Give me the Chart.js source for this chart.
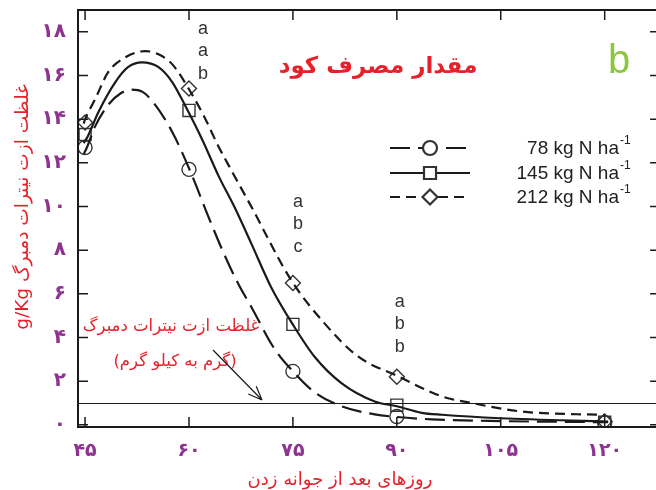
<!DOCTYPE html>
<html>
<head>
<meta charset="utf-8">
<script src="https://cdn.jsdelivr.net/npm/chart.js@4/dist/chart.umd.min.js"></script>
<style>
  html, body { margin: 0; padding: 0; background: #fff; overflow: hidden; }
  #wrap { width: 670px; height: 490px; }
</style>
</head>
<body>
<div id="wrap"><canvas id="chart" width="670" height="490"></canvas></div>
<script>
// measured points (days after emergence)
const sampleDays = [45, 60, 75, 90, 120];
const n78 = [12.7, 11.7, 2.45, 0.38, 0.1];
const n145 = [13.3, 14.4, 4.6, 0.9, 0.12];
const n212 = [13.85, 15.4, 6.5, 2.2, 0.15];

// fitted curves
const fit78Days = [44.8, 45.25, 46.45, 48.4, 50.2, 51.6, 53.3, 54.9, 57.6, 60, 63.1, 65.1, 67.2, 69, 72.3, 75, 78.1, 82, 86.8, 90, 95, 105, 120.5];
const fit78Vals = [12.4, 12.69, 13.67, 14.68, 15.2, 15.35, 15.25, 14.75, 13.4, 11.75, 9.3, 7.8, 6.4, 5.4, 3.5, 2.45, 1.5, 0.85, 0.48, 0.36, 0.25, 0.17, 0.12];
const fit145Days = [44.8, 45.4, 46.9, 49.35, 51.2, 53.2, 55.6, 57.6, 59.5, 61.9, 64.3, 66.6, 69, 71.8, 75, 78.1, 82, 86.8, 90, 93.6, 96.5, 105, 120.5];
const fit145Vals = [12.9, 13.22, 14.31, 15.69, 16.38, 16.6, 16.38, 15.69, 14.59, 13.07, 11.38, 9.95, 8.3, 6.34, 4.59, 3.13, 1.91, 1.07, 0.85, 0.55, 0.46, 0.3, 0.15];
const fit212Days = [44.8, 45, 46.45, 48.33, 50.8, 53.7, 55.6, 57.6, 60, 62.4, 64.1, 66.3, 68.9, 74.7, 79.5, 84.4, 90.2, 96.5, 100.8, 108, 120];
const fit212Vals = [13.8, 13.99, 14.91, 16.15, 16.83, 17.12, 16.97, 16.51, 15.37, 13.99, 12.85, 11.55, 10.05, 6.65, 4.67, 3.13, 2.22, 1.3, 1.0, 0.61, 0.45];

const seriesLabels = ['78 kg N ha', '145 kg N ha', '212 kg N ha'];
const xTickValues = [45, 60, 75, 90, 105, 120];
const xTickLabels = ['۴۵', '۶۰', '۷۵', '۹۰', '۱۰۵', '۱۲۰'];
const yTickValues = [0, 2, 4, 6, 8, 10, 12, 14, 16, 18];
const yTickLabels = ['۰', '۲', '۴', '۶', '۸', '۱۰', '۱۲', '۱۴', '۱۶', '۱۸'];
const thresholdValue = 1;
const sigDays = [60, 75, 90];
const sigLetters = [['a', 'a', 'b'], ['a', 'b', 'c'], ['a', 'b', 'b']];

const chartTitle = 'مقدار مصرف کود';
const xTitle = 'روزهای بعد از جوانه زدن';
const yTitle = 'غلظت ازت نیترات دمبرگ g/Kg';
const noteLine1 = 'غلظت ازت نیترات دمبرگ';
const noteLine2 = '(گرم به کیلو گرم)';

const RED = '#e8202a';
const PURPLE = '#8e3390';
const INK = '#1a1a1a';

const styles = [
  { dash: [20, 8], point: 'circle', r: 7 },
  { dash: [], point: 'rect', r: 8.5 },
  { dash: [10, 6], point: 'rectRot', r: 7.5 }
];

const toXY = (xs, ys) => xs.map((d, i) => ({ x: d, y: ys[i] }));
const fits = [[fit78Days, fit78Vals], [fit145Days, fit145Vals], [fit212Days, fit212Vals]];
const marks = [n78, n145, n212];

const datasets = [];
fits.forEach((f, i) => {
  datasets.push({
    label: seriesLabels[i],
    data: toXY(f[0], f[1]),
    borderColor: INK,
    borderWidth: 2.2,
    borderDash: styles[i].dash,
    pointRadius: 0,
    cubicInterpolationMode: 'monotone',
    fill: false
  });
});
marks.forEach((m, i) => {
  datasets.push({
    label: seriesLabels[i] + ' data',
    data: toXY(sampleDays, m),
    showLine: false,
    pointStyle: styles[i].point,
    pointRadius: styles[i].r,
    pointBorderWidth: 1.4,
    pointBorderColor: '#333',
    pointBackgroundColor: 'rgba(0,0,0,0)'
  });
});

const decor = {
  id: 'decor',
  beforeDatasetsDraw(chart) {
    const { ctx, chartArea: a, scales: { y } } = chart;
    ctx.save();
    ctx.strokeStyle = INK;
    ctx.lineWidth = 1.2;
    const ty = Math.round(y.getPixelForValue(thresholdValue)) + 0.5;
    ctx.beginPath();
    ctx.moveTo(a.left, ty);
    ctx.lineTo(a.right, ty);
    ctx.stroke();
    ctx.restore();
  },
  afterDraw(chart) {
    const { ctx, chartArea: a, scales: { x, y } } = chart;
    ctx.save();

    // frame and inner ticks
    ctx.strokeStyle = INK;
    ctx.lineWidth = 2;
    ctx.strokeRect(a.left, a.top, a.right - a.left, a.bottom - a.top);
    ctx.lineWidth = 1.5;
    ctx.beginPath();
    yTickValues.forEach(v => {
      const py = y.getPixelForValue(v);
      ctx.moveTo(a.left, py); ctx.lineTo(a.left + 10, py);
      ctx.moveTo(a.right, py); ctx.lineTo(a.right - 10, py);
    });
    xTickValues.forEach(v => {
      const px = x.getPixelForValue(v);
      ctx.moveTo(px, a.bottom); ctx.lineTo(px, a.bottom - 10);
      ctx.moveTo(px, a.top); ctx.lineTo(px, a.top + 10);
    });
    ctx.stroke();

    // titles
    ctx.direction = 'rtl';
    ctx.textAlign = 'center';
    ctx.textBaseline = 'middle';
    ctx.fillStyle = RED;
    ctx.font = 'bold 23px "DejaVu Sans"';
    ctx.fillText(chartTitle, 378, 67);
    ctx.font = '18px "DejaVu Sans"';
    ctx.fillText(xTitle, 340, 480);
    ctx.font = '16.5px "DejaVu Sans"';
    ctx.fillText(noteLine1, 171, 327);
    ctx.fillText(noteLine2, 175, 362);
    ctx.save();
    ctx.translate(23, 207);
    ctx.rotate(-Math.PI / 2);
    ctx.font = '18.5px "DejaVu Sans"';
    ctx.fillText(yTitle, 0, 0);
    ctx.restore();
    ctx.direction = 'ltr';

    // panel letter
    ctx.fillStyle = '#8dc63f';
    ctx.font = '40px "Liberation Sans"';
    ctx.textAlign = 'left';
    ctx.fillText('b', 608, 62);

    // arrow
    ctx.strokeStyle = INK;
    ctx.lineWidth = 1.2;
    const ax0 = 213, ay0 = 350, ax1 = 262, ay1 = 400;
    const ang = Math.atan2(ay1 - ay0, ax1 - ax0);
    ctx.beginPath();
    ctx.moveTo(ax0, ay0); ctx.lineTo(ax1, ay1);
    [0.38, -0.38].forEach(d => {
      ctx.moveTo(ax1, ay1);
      ctx.lineTo(ax1 - 15 * Math.cos(ang + d), ay1 - 15 * Math.sin(ang + d));
    });
    ctx.stroke();

    // significance letters
    ctx.fillStyle = '#333';
    ctx.font = '18px "Liberation Sans"';
    ctx.textAlign = 'center';
    const sigOff = [14, 5, 3];
    const sigTop = [29, 202, 302];
    sigDays.forEach((d, i) => {
      const px = x.getPixelForValue(d) + sigOff[i];
      sigLetters[i].forEach((t, j) => ctx.fillText(t, px, sigTop[i] + j * 22.5));
    });

    // legend
    const legY = [148, 173, 197];
    seriesLabels.forEach((lab, i) => {
      const ly = legY[i];
      ctx.strokeStyle = INK;
      ctx.lineWidth = 2.2;
      ctx.setLineDash(styles[i].dash);
      ctx.beginPath();
      ctx.moveTo(390, ly); ctx.lineTo(470, ly);
      ctx.stroke();
      ctx.setLineDash([]);
      ctx.strokeStyle = '#333';
      ctx.fillStyle = '#fff';
      Chart.helpers.drawPoint(ctx, { pointStyle: styles[i].point, radius: styles[i].r, rotation: 0, borderWidth: 1.4 }, 430, ly);
      ctx.fillStyle = '#222';
      ctx.font = '19px "Liberation Sans"';
      ctx.textAlign = 'right';
      ctx.fillText(lab, 619, ly + 1);
      ctx.font = '12px "Liberation Sans"';
      ctx.textAlign = 'left';
      ctx.fillText('-1', 620, ly - 7);
    });

    ctx.restore();
  }
};

new Chart(document.getElementById('chart'), {
  type: 'line',
  data: { datasets },
  options: {
    responsive: false,
    animation: false,
    layout: { padding: { top: 10, right: 4, bottom: 0, left: 0 } },
    plugins: { legend: { display: false }, tooltip: { enabled: false } },
    scales: {
      x: {
        type: 'linear',
        min: 43.98,
        max: 128.0,
        grid: { display: false },
        border: { display: false },
        afterFit: s => { s.height = 63; s.paddingLeft = 0; s.paddingRight = 0; },
        afterBuildTicks: s => { s.ticks = xTickValues.map(v => ({ value: v })); },
        ticks: {
          padding: 5,
          color: PURPLE,
          font: { family: 'DejaVu Sans', size: 19, weight: 'bold' },
          maxRotation: 0,
          callback: v => xTickLabels[xTickValues.indexOf(v)]
        }
      },
      y: {
        min: -0.1,
        max: 19,
        grid: { display: false },
        border: { display: false },
        afterFit: s => { s.width = 78; s.paddingTop = 0; s.paddingBottom = 0; },
        afterBuildTicks: s => { s.ticks = yTickValues.map(v => ({ value: v })); },
        ticks: {
          padding: 4,
          color: PURPLE,
          font: { family: 'DejaVu Sans', size: 20, weight: 'bold' },
          callback: v => yTickLabels[yTickValues.indexOf(v)]
        }
      }
    }
  },
  plugins: [decor]
});
</script>
</body>
</html>
